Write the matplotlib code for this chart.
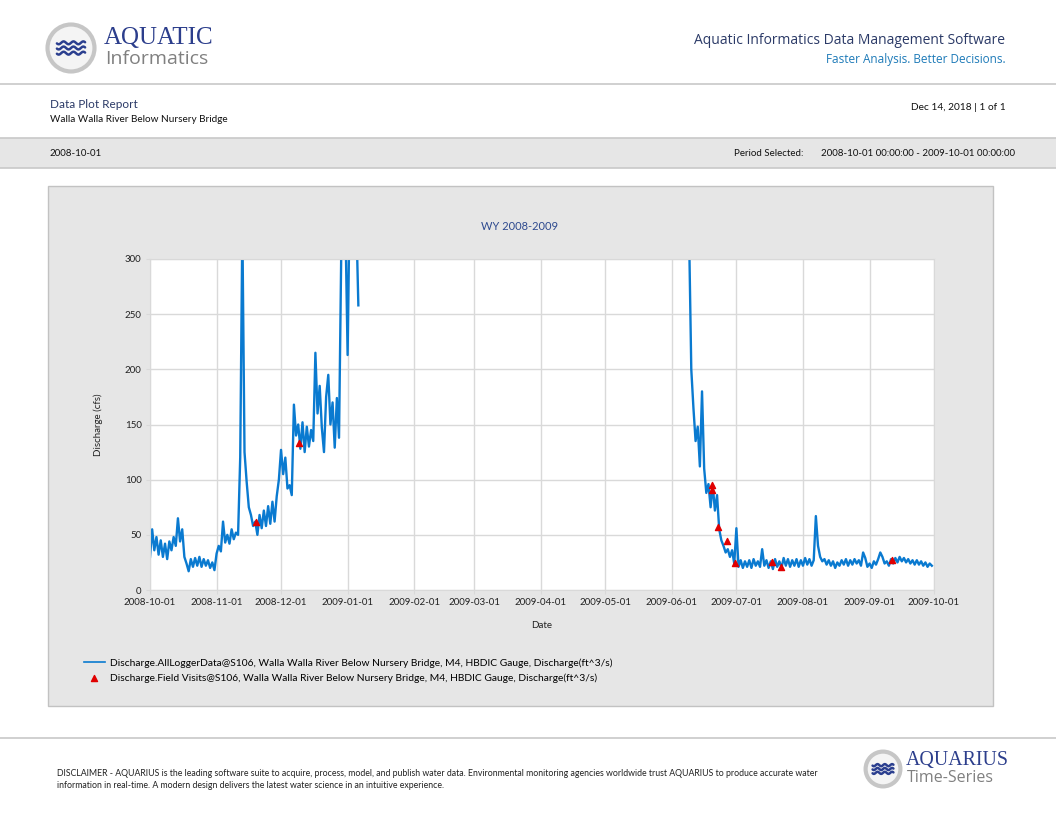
import numpy as np
import pandas as pd
import matplotlib
matplotlib.use("Agg")
import matplotlib.pyplot as plt
import matplotlib.patches as patches
import matplotlib.dates as mdates

W, H = 1056, 816

# discharge (cfs), one value per day
seg1_start = "2008-10-01"
seg1_values = [30, 55, 36, 48, 32, 45, 30, 42, 28, 44,
               36, 48, 40, 65, 44, 55, 30, 24, 17, 28,
               21, 29, 22, 30, 21, 28, 22, 27, 20, 25,
               18, 33, 40, 35, 62, 43, 50, 42, 55, 46,
               52, 50, 120, 330, 125, 98, 75, 68, 58, 62,
               50, 68, 56, 72, 58, 76, 60, 80, 62, 85,
               100, 127, 105, 120, 92, 95, 86, 168, 140, 150,
               128, 152, 125, 148, 130, 145, 135, 215, 160, 185,
               147, 125, 175, 195, 150, 170, 129, 174, 138, 300,
               360, 330, 213, 360, 420, 380, 340, 258]
seg2_start = "2009-06-09"
seg2_values = [320, 200, 165, 135, 148, 112, 180, 110, 88, 96,
               75, 95, 72, 86, 55, 45, 40, 34, 37, 30,
               36, 24, 56, 21, 27, 20, 26, 21, 27, 20,
               28, 22, 26, 21, 37, 22, 27, 20, 26, 19,
               28, 21, 26, 20, 29, 22, 28, 21, 27, 22,
               28, 21, 27, 22, 29, 23, 28, 22, 27, 67,
               40, 30, 26, 28, 23, 27, 22, 26, 20, 25,
               22, 27, 23, 28, 22, 27, 23, 28, 24, 27,
               22, 34, 29, 21, 24, 20, 26, 23, 28, 34,
               30, 24, 26, 22, 28, 24, 29, 25, 30, 26,
               29, 25, 28, 24, 27, 23, 27, 23, 26, 22,
               25, 21, 24, 22]

visit_dates = ["2008-11-19 06:00", "2008-12-09 10:00", "2009-06-19 12:00",
               "2009-06-19 18:00", "2009-06-22 16:00", "2009-06-26 12:00",
               "2009-06-30 08:00", "2009-07-17 10:00", "2009-07-21 14:00",
               "2009-09-11 14:00"]
visit_values = [62, 133, 95, 91, 57, 44, 24.5, 25.7, 21, 27]

month_ticks = ["2008-10-01", "2008-11-01", "2008-12-01", "2009-01-01",
               "2009-02-01", "2009-03-01", "2009-04-01", "2009-05-01",
               "2009-06-01", "2009-07-01", "2009-08-01", "2009-09-01",
               "2009-10-01"]
y_ticks = [0, 50, 100, 150, 200, 250, 300]

d1 = pd.date_range(seg1_start, periods=len(seg1_values), freq="D")
d2 = pd.date_range(seg2_start, periods=len(seg2_values), freq="D")
dates = list(d1) + [d1[-1] + pd.Timedelta(hours=12)] + list(d2)
values = seg1_values + [np.nan] + seg2_values

plt.rcParams['font.family'] = ['Lato', 'DejaVu Sans']

fig = plt.figure(figsize=(W / 100, H / 100), dpi=100)


def fx(px):
    return px / W


def fy(py):
    return 1 - py / H


def rect(x0, y0, x1, y1, **kw):
    fig.add_artist(patches.Rectangle((fx(x0), fy(y1)), fx(x1) - fx(x0), fy(y0) - fy(y1),
                                     transform=fig.transFigure, zorder=-5, **kw))


def hline(y, x0=0, x1=W, color="#c8c8c8", lw=1.2):
    fig.add_artist(plt.Line2D([fx(x0), fx(x1)], [fy(y), fy(y)], transform=fig.transFigure,
                              color=color, lw=lw, zorder=-4))


def logo(cx, cy, r):
    ax_l = fig.add_axes([fx(cx - r - 3), fy(cy + r + 3), (2 * r + 6) / W, (2 * r + 6) / H])
    ax_l.set_xlim(-1.15, 1.15)
    ax_l.set_ylim(-1.15, 1.15)
    ax_l.set_aspect("equal")
    ax_l.axis("off")
    ax_l.add_patch(patches.Circle((0, 0), 1.0, facecolor="#f4f4f4", edgecolor="#c6c6c6", lw=3))
    t = np.linspace(-0.6, 0.6, 60)
    for off in (0.22, 0.0, -0.22):
        ax_l.plot(t, off + 0.06 * np.sin(t * 15), color="#2b3f8f", lw=1.8, solid_capstyle="round")


# header
logo(71, 48, 24)
fig.text(fx(104), fy(38), "AQUATIC", family="Liberation Serif", fontsize=18, color="#2c3e8c", va="center")
fig.text(fx(105), fy(59), "Informatics", family="Open Sans", fontsize=14, color="#808080", va="center")
fig.text(fx(1005), fy(41), "Aquatic Informatics Data Management Software", family="Open Sans",
         fontsize=10, color="#2b3a67", ha="right", va="center")
fig.text(fx(1006), fy(59.5), "Faster Analysis. Better Decisions.", family="Open Sans",
         fontsize=8.5, color="#1d7ab8", ha="right", va="center")
hline(84)

fig.text(fx(50), fy(104), "Data Plot Report", fontsize=8.5, color="#2b3a67", va="center")
fig.text(fx(50), fy(120), "Walla Walla River Below Nursery Bridge", fontsize=7.2, color="#111111", va="center")
fig.text(fx(1006), fy(107), "Dec 14, 2018 | 1 of 1", fontsize=7.3, color="#111111", ha="right", va="center")

rect(0, 138, W, 168, facecolor="#e6e6e6", edgecolor="none")
hline(138)
hline(168)
fig.text(fx(50), fy(153), "2008-10-01", fontsize=7, color="#111111", va="center")
fig.text(fx(803), fy(153), "Period Selected:", fontsize=7, color="#111111", ha="right", va="center")
fig.text(fx(1015), fy(153), "2008-10-01 00:00:00 - 2009-10-01 00:00:00", fontsize=7,
         color="#111111", ha="right", va="center")

# chart panel
rect(48, 186, 993, 706, facecolor="#e6e6e6", edgecolor="#c2c2c2", lw=1)
fig.text(fx(520), fy(226), "WY 2008-2009", fontsize=8, color="#2e4a8f", ha="center", va="center")

ax = fig.add_axes([fx(150), fy(590), (934 - 150) / W, (590 - 259) / H])
ax.set_zorder(5)
ax.set_facecolor("white")
line, = ax.plot(dates, values, color="#0a7ad0", lw=1.7)
vis = ax.scatter(pd.to_datetime(visit_dates), visit_values, marker="^", s=19, color="#e00000", zorder=3)

ax.set_xlim(pd.Timestamp(month_ticks[0]), pd.Timestamp(month_ticks[-1]))
ax.set_ylim(0, 300)
ax.set_xticks(pd.to_datetime(month_ticks))
ax.xaxis.set_major_formatter(mdates.DateFormatter("%Y-%m-%d"))
ax.set_yticks(y_ticks)
ax.grid(True, color="#d9d9d9", lw=1)
ax.set_axisbelow(True)
for s in ax.spines.values():
    s.set_color("#d9d9d9")
ax.tick_params(length=3, color="#d9d9d9", labelsize=7, labelcolor="#222222", pad=3)
ax.set_xlabel("Date", fontsize=7, color="#222222", labelpad=10)
ax.set_ylabel("Discharge (cfs)", fontsize=7, color="#222222", labelpad=16)

leg = fig.legend([line, vis],
                 ["Discharge.AllLoggerData@S106, Walla Walla River Below Nursery Bridge, M4, HBDIC Gauge, Discharge(ft^3/s)",
                  "Discharge.Field Visits@S106, Walla Walla River Below Nursery Bridge, M4, HBDIC Gauge, Discharge(ft^3/s)"],
                 loc="upper left", bbox_to_anchor=(fx(80), fy(654)), frameon=False, fontsize=7.4,
                 handlelength=2.0, handletextpad=0.5, labelspacing=0.55, borderaxespad=0)
leg.get_lines()[0].set_linewidth(1.2)
leg.set_zorder(6)

# footer
hline(738)
fig.text(fx(57), fy(774), "DISCLAIMER - AQUARIUS is the leading software suite to acquire, process, model, and publish "
         "water data. Environmental monitoring agencies worldwide trust AQUARIUS to produce accurate water",
         fontsize=6.3, color="#222222", va="center")
fig.text(fx(57), fy(786), "information in real-time. A modern design delivers the latest water science in an "
         "intuitive experience.", fontsize=6.3, color="#222222", va="center")
logo(883, 769, 17)
fig.text(fx(906), fy(761), "AQUARIUS", family="Liberation Serif", fontsize=14.3, color="#2c3e8c", va="center")
fig.text(fx(907), fy(778), "Time-Series", family="Open Sans", fontsize=11.5, color="#808080", va="center")

fig.savefig("out.png", dpi=100)
